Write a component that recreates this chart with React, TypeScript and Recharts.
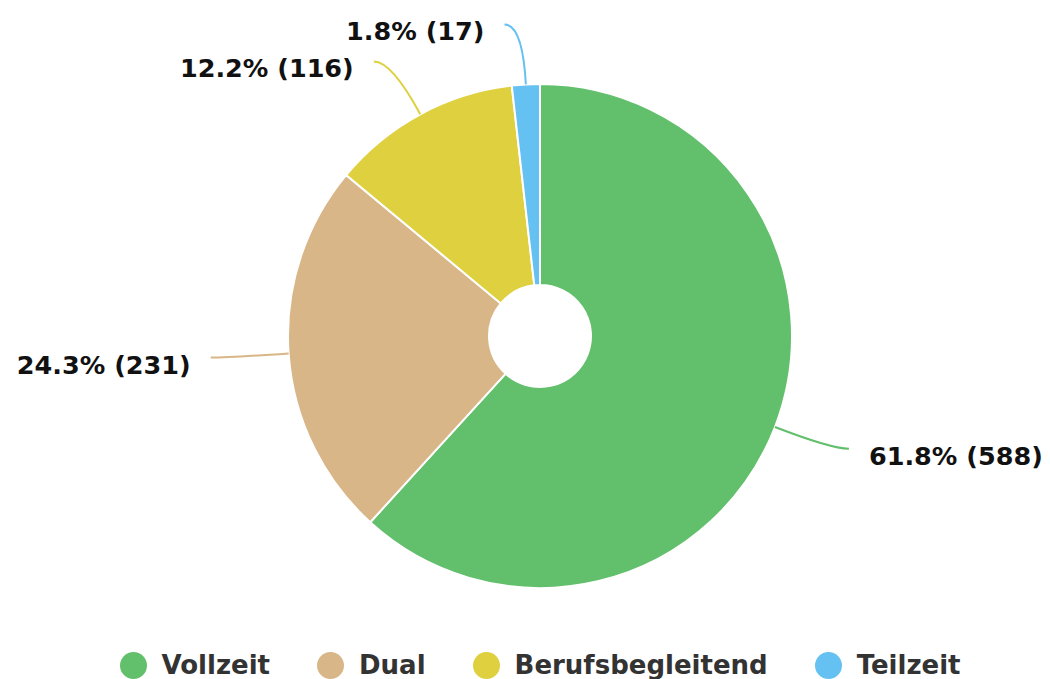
import { PieChart, Pie, Cell, Legend } from "recharts"

const categories = ["Vollzeit", "Dual", "Berufsbegleitend", "Teilzeit"]
const counts = [588, 231, 116, 17]
const colors = ["#62bf6b", "#d8b687", "#dfd040", "#64c1f1"]

const data = categories.map((name, i) => ({ name, value: counts[i] }))

const RADIAN = Math.PI / 180
const font = "'DejaVu Sans', Verdana, sans-serif"

function renderLabel(props: any) {
  const { cx, cy, midAngle, outerRadius, percent, value, fill } = props
  const cos = Math.cos(-midAngle * RADIAN)
  const sin = Math.sin(-midAngle * RADIAN)
  const sx = cx + outerRadius * cos
  const sy = cy + outerRadius * sin
  const mx = cx + (outerRadius + 60) * cos
  const my = cy + (outerRadius + 60) * sin
  const right = cos >= 0
  const ex = mx + (right ? 1 : -1) * 18
  const ey = my
  const tx = ex + (right ? 1 : -1) * 20
  return (
    <g>
      <path
        d={`M${sx},${sy} Q${mx},${my} ${ex},${ey}`}
        stroke={fill}
        strokeWidth={2}
        fill="none"
      />
      <text
        x={tx}
        y={ey + 7}
        textAnchor={right ? "start" : "end"}
        dominantBaseline="central"
        fill="#111"
        fontFamily={font}
        fontWeight="bold"
        fontSize={25.5}
      >
        {`${(percent * 100).toFixed(1)}% (${value})`}
      </text>
    </g>
  )
}

function renderLegend() {
  return (
    <div
      style={{
        display: "flex",
        justifyContent: "center",
        alignItems: "center",
        gap: 47,
        fontFamily: font,
        fontWeight: "bold",
        fontSize: 26,
        color: "#333",
      }}
    >
      {categories.map((c, i) => (
        <div key={c} style={{ display: "flex", alignItems: "center", gap: 15 }}>
          <div
            style={{
              width: 27,
              height: 27,
              borderRadius: "50%",
              background: colors[i],
            }}
          />
          <span>{c}</span>
        </div>
      ))}
    </div>
  )
}

export default function App() {
  return (
    <div style={{ position: "absolute", left: 0, top: 0, width: 1050, height: 679, background: "#fff", overflow: "hidden" }}>
      <PieChart width={1050} height={679} margin={{ top: 0, right: 0, bottom: 0, left: 0 }}>
        <Pie
          data={data}
          dataKey="value"
          nameKey="name"
          cx={540}
          cy={336}
          innerRadius={51}
          outerRadius={252}
          startAngle={90}
          endAngle={-270}
          stroke="#fff"
          strokeWidth={2}
          label={renderLabel}
          labelLine={false}
          isAnimationActive={false}
        >
          {data.map((d, i) => (
            <Cell key={d.name} fill={colors[i]} />
          ))}
        </Pie>
        <Legend
          content={renderLegend}
          wrapperStyle={{ top: 650, left: 30, width: 1020 }}
        />
      </PieChart>
    </div>
  )
}
